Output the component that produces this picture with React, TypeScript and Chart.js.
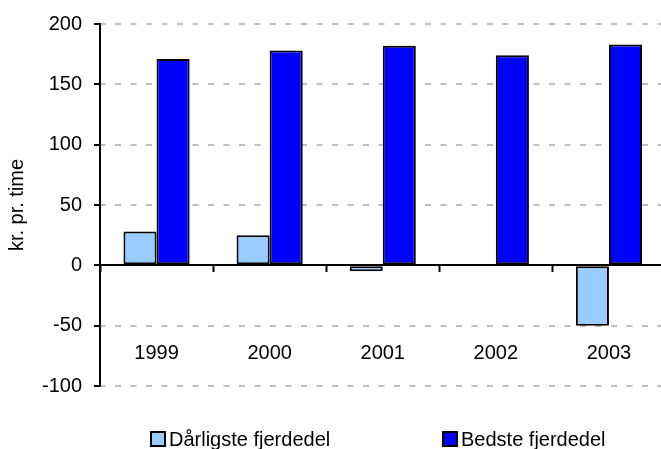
import React, { useEffect, useRef } from "react";
import { Chart, registerables } from "chart.js";

Chart.register(...registerables);

const categories = ["1999", "2000", "2001", "2002", "2003"];
const worstQuarter = [28, 25, -5, 0, -50];
const bestQuarter = [171, 178, 182, 174, 183];
const seriesLabels = ["Dårligste fjerdedel", "Bedste fjerdedel"];
const yTicks = [-100, -50, 0, 50, 100, 150, 200];
const yTitle = "kr. pr. time";

const FONT = "'Liberation Sans', Arial, sans-serif";

const legendPlugin = {
  id: "customLegend",
  afterDraw(chart: any) {
    const ctx = chart.ctx;
    const starts = [151, 443];
    ctx.save();
    ctx.font = `20px ${FONT}`;
    ctx.textBaseline = "alphabetic";
    ctx.textAlign = "left";
    chart.data.datasets.forEach((ds: any, i: number) => {
      const x = starts[i];
      ctx.fillStyle = ds.backgroundColor;
      ctx.fillRect(x, 432, 14, 14);
      ctx.strokeStyle = "#000";
      ctx.lineWidth = 2;
      ctx.strokeRect(x, 432, 14, 14);
      ctx.fillStyle = "#000";
      ctx.fillText(ds.label, x + 18, 446);
    });
    ctx.restore();
  },
};

export default function App() {
  const ref = useRef<HTMLCanvasElement | null>(null);

  useEffect(() => {
    if (!ref.current) return;
    const chart = new Chart(ref.current, {
      type: "bar",
      data: {
        labels: categories,
        datasets: [
          {
            label: seriesLabels[0],
            data: worstQuarter,
            backgroundColor: "#99CCFF",
            borderColor: "#000000",
            borderWidth: 2,
            borderSkipped: false,
            inflateAmount: 0,
            categoryPercentage: 0.585,
            barPercentage: 1,
          },
          {
            label: seriesLabels[1],
            data: bestQuarter,
            backgroundColor: "#0000FF",
            borderColor: "#000000",
            borderWidth: 2,
            borderSkipped: false,
            inflateAmount: 0,
            categoryPercentage: 0.585,
            barPercentage: 1,
          },
        ],
      },
      options: {
        responsive: false,
        animation: false,
        devicePixelRatio: 1,
        layout: { padding: { left: 0, top: 21, right: 4.5, bottom: 63 } },
        plugins: {
          legend: { display: false },
          tooltip: { enabled: false },
        },
        scales: {
          x: {
            position: { y: 0 } as any,
            offset: true,
            afterFit: (scale: any) => {
              scale.paddingLeft = 0;
              scale.paddingRight = 0;
            },
            grid: {
              display: true,
              offset: true,
              drawOnChartArea: false,
              drawTicks: true,
              tickLength: 6,
              tickWidth: 2,
              tickColor: "#000",
            },
            border: { display: true, color: "#000", width: 2 },
            ticks: {
              color: "#000",
              font: { family: FONT, size: 20 },
              padding: 70,
              maxRotation: 0,
            },
          },
          y: {
            position: "left",
            min: -100,
            max: 200,
            afterFit: (scale: any) => {
              scale.width = 100;
            },
            afterBuildTicks: (scale: any) => {
              scale.ticks = yTicks.map((v) => ({ value: v }));
            },
            grid: {
              color: (c: any) =>
                c.tick && c.tick.value === 0 ? "rgba(0,0,0,0)" : "#C0C0C0",
              lineWidth: 2,
              drawTicks: true,
              tickLength: 6,
              tickWidth: 2,
              tickColor: "#000",
            },
            border: {
              display: true,
              color: "#000",
              width: 2,
              dash: [6, 9.5],
              dashOffset: 1.5,
            },
            ticks: {
              color: "#000",
              font: { family: FONT, size: 20 },
              padding: 12,
            },
            title: {
              display: true,
              text: yTitle,
              color: "#000",
              font: { family: FONT, size: 20 },
              padding: { top: 5, bottom: 4 },
            },
          },
        },
      },
      plugins: [legendPlugin],
    });
    return () => chart.destroy();
  }, []);

  return (
    <div
      style={{
        position: "fixed",
        left: 0,
        top: 0,
        width: 661,
        height: 449,
        overflow: "hidden",
        background: "#fff",
      }}
    >
      <canvas
        ref={ref}
        width={670}
        height={449}
        style={{ display: "block", width: 670, height: 449 }}
      />
    </div>
  );
}
